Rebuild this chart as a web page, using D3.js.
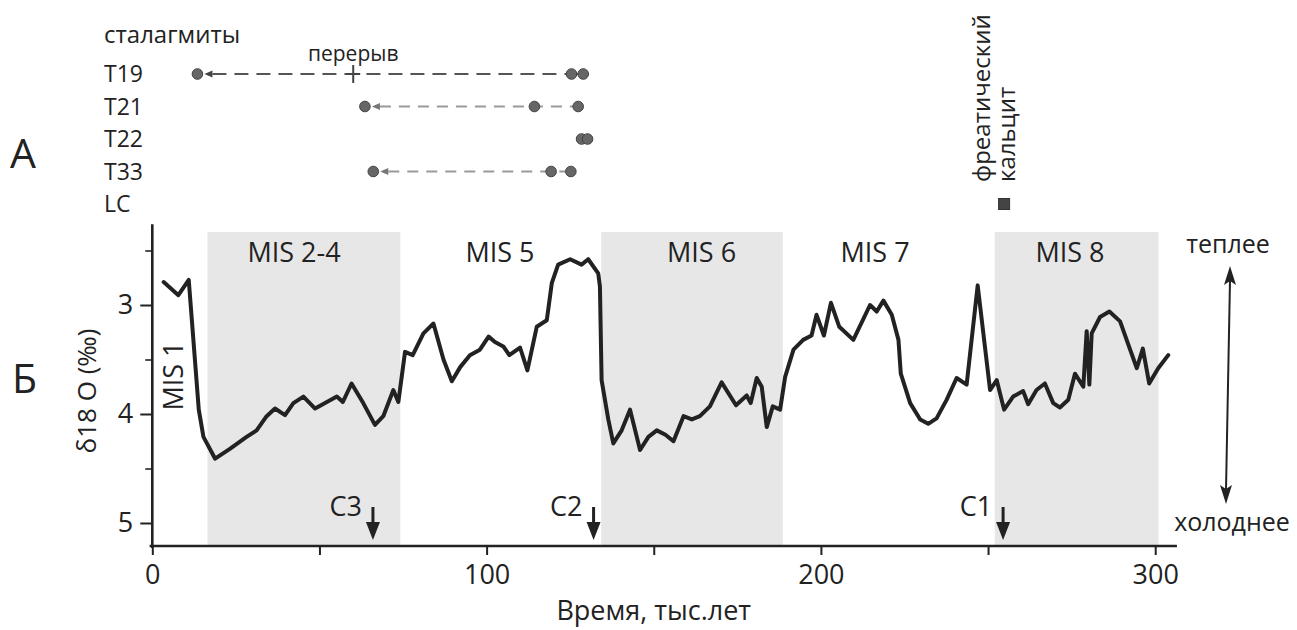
<!DOCTYPE html>
<html>
<head>
<meta charset="utf-8">
<script src="https://cdn.jsdelivr.net/npm/d3@7"></script>
<style>
    body { margin: 0; background: #fff; }
    text { font-family: "Open Sans", sans-serif; fill: #222; }
</style>
</head>
<body>
<script>
(function () {
    "use strict";

    // isotope curve (time in kyr, d18O in permil)
    var ages = [3.4, 7.8, 10.9, 13.9, 15.3, 18.8, 23.2, 28.2, 31.2, 34.2, 36.7, 39.7, 42.2, 45.2, 48.7,
        55.2, 57.0, 59.6, 63.1, 66.6, 69.1, 72.1, 73.6, 75.6, 77.9, 81.1, 84.1, 87.1, 89.6, 92.1,
        95.0, 98.0, 100.6, 102.5, 105.0, 106.8, 110.0, 112.2, 115.0, 118.0, 119.5, 121.4, 125.0, 128.4,
        130.4, 133.4, 133.9, 134.4, 136.4, 137.9, 140.4, 142.9, 145.9, 148.4, 150.9, 153.5, 155.9,
        158.9, 161.4, 163.8, 166.8, 170.3, 174.6, 177.8, 179.0, 180.8, 182.3, 183.8, 185.6, 187.8,
        189.3, 191.8, 194.7, 197.2, 198.7, 200.9, 203.0, 205.5, 209.7, 214.7, 216.7, 218.7, 221.2,
        223.2, 223.9, 226.7, 229.7, 232.1, 234.6, 237.6, 240.6, 243.6, 246.9, 250.6, 252.6, 254.8,
        257.5, 260.5, 262.0, 264.5, 267.0, 269.5, 271.5, 274.0, 276.0, 278.5, 279.5, 280.3, 281.0,
        283.5, 286.3, 289.5, 292.5, 294.5, 296.3, 298.2, 300.9, 303.9];
    var d18O = [2.79, 2.91, 2.77, 3.96, 4.21, 4.41, 4.32, 4.21, 4.15, 4.02, 3.95, 4.01, 3.90, 3.84, 3.95,
        3.84, 3.89, 3.72, 3.90, 4.10, 4.02, 3.78, 3.89, 3.43, 3.46, 3.26, 3.17, 3.50, 3.70, 3.57,
        3.46, 3.41, 3.29, 3.34, 3.38, 3.46, 3.39, 3.60, 3.20, 3.14, 2.80, 2.63, 2.58, 2.63,
        2.58, 2.71, 2.83, 3.69, 4.05, 4.27, 4.15, 3.96, 4.33, 4.21, 4.15, 4.19, 4.25,
        4.02, 4.05, 4.02, 3.93, 3.71, 3.92, 3.83, 3.90, 3.67, 3.75, 4.12, 3.93, 3.96,
        3.66, 3.41, 3.32, 3.28, 3.09, 3.28, 2.98, 3.20, 3.32, 3.00, 3.06, 2.96, 3.09,
        3.32, 3.63, 3.90, 4.05, 4.09, 4.04, 3.87, 3.67, 3.73, 2.82, 3.78, 3.69, 3.96,
        3.84, 3.79, 3.91, 3.78, 3.72, 3.90, 3.94, 3.87, 3.63, 3.75, 3.24, 3.73, 3.26,
        3.11, 3.06, 3.15, 3.41, 3.58, 3.40, 3.72, 3.58, 3.46];

    // marine isotope stages
    var shadeStart = [16.5, 134.3, 252];
    var shadeEnd = [74.2, 188.6, 301];
    var misLabels = ["MIS 2-4", "MIS 5", "MIS 6", "MIS 7", "MIS 8"];
    var misCenters = [42.4, 104, 164.3, 216.2, 274.5];

    // sampling points C1..C3
    var sampleNames = ["C3", "C2", "C1"];
    var sampleAges = [66, 132, 254.5];

    // stalagmite growth (panel A)
    var stalagmites = ["T19", "T21", "T22", "T33", "LC"];
    var stalAges = [[13.5, 125.4, 128.9], [63.6, 114.3, 127.4], [128.4, 130.2], [66.1, 119.3, 125.2], []];
    var hiatusAge = 60.1;
    var phreaticAge = 254.8;

    var xTicks = [0, 50, 100, 150, 200, 250, 300];
    var yMajor = [3, 4, 5];
    var yMinor = [2.5, 3.5, 4.5];

    var plot = {width: 1297, height: 630};

    plot.svg = d3.select("body").append("svg")
            .attr("width", plot.width)
            .attr("height", plot.height);

    var x = d3.scaleLinear().domain([0, 300]).range([152.3, 1155.2]);
    var y = d3.scaleLinear().domain([3, 5]).range([305, 523]);
    var axisY = 546;
    var ink = "#222";

    // shaded stages
    plot.svg.append("g").selectAll("rect")
            .data(shadeStart)
            .enter().append("rect")
            .attr("x", function (d) { return x(d); })
            .attr("width", function (d, i) { return x(shadeEnd[i]) - x(d); })
            .attr("y", 232)
            .attr("height", axisY - 232)
            .attr("fill", "#e7e7e7");

    plot.svg.append("g").selectAll("text")
            .data(misLabels)
            .enter().append("text")
            .attr("x", function (d, i) { return x(misCenters[i]); })
            .attr("y", 262)
            .attr("text-anchor", "middle")
            .style("font-size", "27px")
            .text(function (d) { return d; });

    plot.svg.append("text")
            .attr("transform", "translate(183,376) rotate(-90)")
            .attr("text-anchor", "middle")
            .style("font-size", "27px")
            .text("MIS 1");

    // axes
    var xAxis = plot.svg.append("g")
            .attr("transform", "translate(0," + axisY + ")")
            .call(d3.axisBottom(x).tickValues(xTicks).tickSize(9).tickPadding(10)
                .tickFormat(function (d) { return d % 100 === 0 ? d : ""; }));
    xAxis.select(".domain").remove();
    xAxis.selectAll("line").attr("stroke", ink).attr("stroke-width", 2);
    xAxis.selectAll("text").style("font-size", "27px").attr("fill", ink);

    plot.svg.append("line")
            .attr("x1", x(-0.8)).attr("x2", x(306.5))
            .attr("y1", axisY).attr("y2", axisY)
            .attr("stroke", ink).attr("stroke-width", 2.6);

    var yAxis = plot.svg.append("g")
            .attr("transform", "translate(" + x(0) + ",0)")
            .call(d3.axisLeft(y).tickValues(yMajor).tickSize(12).tickPadding(7).tickFormat(d3.format("d")));
    yAxis.select(".domain").remove();
    yAxis.selectAll("line").attr("stroke", ink).attr("stroke-width", 2);
    yAxis.selectAll("text").style("font-size", "27px").attr("fill", ink);

    var yAxisMinor = plot.svg.append("g")
            .attr("transform", "translate(" + x(0) + ",0)")
            .call(d3.axisLeft(y).tickValues(yMinor).tickSize(7).tickFormat(""));
    yAxisMinor.select(".domain").remove();
    yAxisMinor.selectAll("line").attr("stroke", ink).attr("stroke-width", 1.6);

    plot.svg.append("line")
            .attr("x1", x(0)).attr("x2", x(0))
            .attr("y1", y(2.26)).attr("y2", axisY + 2)
            .attr("stroke", ink).attr("stroke-width", 2.6);

    plot.svg.append("text")
            .attr("transform", "translate(96,391) rotate(-90)")
            .attr("text-anchor", "middle")
            .style("font-size", "26px")
            .text("\u03b418 O (\u2030)");

    plot.svg.append("text")
            .attr("x", x(150))
            .attr("y", 620)
            .attr("text-anchor", "middle")
            .style("font-size", "27px")
            .text("Время, тыс.лет");

    // the isotope curve
    var line = d3.line()
            .x(function (d) { return x(d); })
            .y(function (d, i) { return y(d18O[i]); });

    plot.svg.append("path")
            .attr("d", line(ages))
            .attr("fill", "none")
            .attr("stroke", ink)
            .attr("stroke-width", 4)
            .attr("stroke-linejoin", "round")
            .attr("stroke-linecap", "round");

    // sample arrows
    var samples = plot.svg.append("g").selectAll("g")
            .data(sampleAges)
            .enter().append("g");

    samples.append("line")
            .attr("x1", function (d) { return x(d); })
            .attr("x2", function (d) { return x(d); })
            .attr("y1", 507)
            .attr("y2", 526)
            .attr("stroke", ink)
            .attr("stroke-width", 3);

    samples.append("path")
            .attr("d", function (d) {
                var cx = x(d);
                return "M" + (cx - 7) + ",522 L" + (cx + 7) + ",522 L" + cx + ",540 Z";
            })
            .attr("fill", ink);

    samples.append("text")
            .attr("x", function (d) { return x(d) - 11; })
            .attr("y", 516)
            .attr("text-anchor", "end")
            .style("font-size", "27px")
            .text(function (d, i) { return sampleNames[i]; });

    // warmer / colder arrow
    plot.svg.append("line")
            .attr("x1", 1230).attr("y1", 280)
            .attr("x2", 1226).attr("y2", 490)
            .attr("stroke", ink).attr("stroke-width", 2);
    plot.svg.append("path")
            .attr("d", "M1230,266 L1236,285 L1230,281 L1224,285 Z M1226,504 L1220,485 L1226,489 L1232,485 Z")
            .attr("fill", ink);

    plot.svg.append("text")
            .attr("x", 1228).attr("y", 253)
            .attr("text-anchor", "middle")
            .style("font-size", "25px")
            .text("теплее");
    plot.svg.append("text")
            .attr("x", 1232).attr("y", 531)
            .attr("text-anchor", "middle")
            .style("font-size", "25px")
            .text("холоднее");

    // panel letters
    plot.svg.append("text").attr("x", 10).attr("y", 168).style("font-size", "41px").text("А");
    plot.svg.append("text").attr("x", 12).attr("y", 393).style("font-size", "41px").text("Б");

    // PANEL A: stalagmite growth intervals
    var row = d3.scalePoint().domain(stalagmites).range([74, 204]);

    plot.svg.append("text")
            .attr("x", 104).attr("y", 43)
            .style("font-size", "24px")
            .text("сталагмиты");

    plot.svg.append("g").selectAll("text")
            .data(stalagmites)
            .enter().append("text")
            .attr("x", 104)
            .attr("y", function (d) { return row(d); })
            .attr("dy", "0.36em")
            .style("font-size", "23px")
            .text(function (d) { return d; });

    var stal = plot.svg.append("g").selectAll("g")
            .data(stalagmites.slice(0, 4))
            .enter().append("g");

    stal.filter(function (d, i) { return stalAges[i].length > 2; })
            .append("line")
            .attr("x1", function (d) { return x(stalAges[stalagmites.indexOf(d)][0]) + 15; })
            .attr("x2", function (d) { var a = stalAges[stalagmites.indexOf(d)]; return x(a[a.length - 1]); })
            .attr("y1", function (d) { return row(d); })
            .attr("y2", function (d) { return row(d); })
            .attr("stroke", function (d) { return d === "T19" ? "#555" : "#999"; })
            .attr("stroke-width", 1.8)
            .attr("stroke-dasharray", function (d) { return d === "T19" ? "14,8" : "11,8"; });

    stal.filter(function (d, i) { return stalAges[i].length > 2; })
            .append("path")
            .attr("d", function (d) {
                var x0 = x(stalAges[stalagmites.indexOf(d)][0]) + 7, r = row(d);
                return "M" + x0 + "," + r + " L" + (x0 + 8) + "," + (r - 3.5) + " L" + (x0 + 8) + "," + (r + 3.5) + " Z";
            })
            .attr("fill", function (d) { return d === "T19" ? "#444" : "#777"; });

    stal.selectAll("circle")
            .data(function (d, i) { return stalAges[i].map(function (a) { return {age: a, row: d}; }); })
            .enter().append("circle")
            .attr("cx", function (d) { return x(d.age); })
            .attr("cy", function (d) { return row(d.row); })
            .attr("r", 5.3)
            .attr("fill", "#666")
            .attr("stroke", "#444")
            .attr("stroke-width", 1);

    // hiatus in T19
    plot.svg.append("line")
            .attr("x1", x(hiatusAge)).attr("x2", x(hiatusAge))
            .attr("y1", row("T19") - 9).attr("y2", row("T19") + 9)
            .attr("stroke", "#444").attr("stroke-width", 2);
    plot.svg.append("line")
            .attr("x1", x(hiatusAge) - 7).attr("x2", x(hiatusAge) + 7)
            .attr("y1", row("T19")).attr("y2", row("T19"))
            .attr("stroke", "#444").attr("stroke-width", 2);
    plot.svg.append("text")
            .attr("x", x(hiatusAge)).attr("y", 61)
            .attr("text-anchor", "middle")
            .style("font-size", "21px")
            .text("перерыв");

    // phreatic calcite
    plot.svg.append("rect")
            .attr("x", x(phreaticAge) - 5.5).attr("y", row("LC") - 5.5)
            .attr("width", 11).attr("height", 11)
            .attr("fill", "#444").attr("stroke", "#333");
    plot.svg.append("text")
            .attr("transform", "translate(990,182) rotate(-90)")
            .style("font-size", "24px")
            .text("фреатический");
    plot.svg.append("text")
            .attr("transform", "translate(1015,182) rotate(-90)")
            .style("font-size", "24px")
            .text("кальцит");
})();
</script>
</body>
</html>
